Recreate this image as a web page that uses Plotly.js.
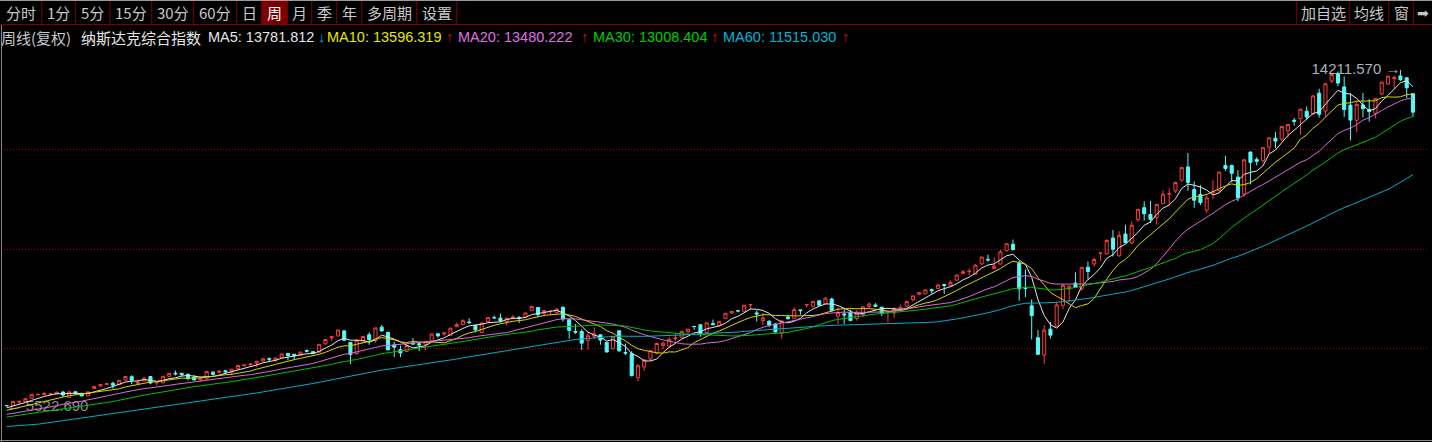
<!DOCTYPE html>
<html><head><meta charset="utf-8">
<script src="https://cdn.plot.ly/plotly-3.0.1.min.js"></script>
<style>html,body{margin:0;padding:0;background:#000;overflow:hidden}#chart{width:1432px;height:442px}</style>
</head><body><div id="chart"></div>
<script>
// ---- weekly categories (week ending) ----
const weeks = [
"2017-01-20","2017-01-27","2017-02-03","2017-02-10","2017-02-17","2017-02-24","2017-03-03","2017-03-10","2017-03-17","2017-03-24","2017-03-31","2017-04-07","2017-04-14","2017-04-21","2017-04-28","2017-05-05","2017-05-12","2017-05-19","2017-05-26","2017-06-02","2017-06-09","2017-06-16","2017-06-23","2017-06-30","2017-07-07","2017-07-14","2017-07-21","2017-07-28","2017-08-04","2017-08-11","2017-08-18","2017-08-25","2017-09-01","2017-09-08","2017-09-15","2017-09-22","2017-09-29","2017-10-06","2017-10-13","2017-10-20","2017-10-27","2017-11-03","2017-11-10","2017-11-17","2017-11-24","2017-12-01","2017-12-08","2017-12-15","2017-12-22","2017-12-29",
"2018-01-05","2018-01-12","2018-01-19","2018-01-26","2018-02-02","2018-02-09","2018-02-16","2018-02-23","2018-03-02","2018-03-09","2018-03-16","2018-03-23","2018-03-30","2018-04-06","2018-04-13","2018-04-20","2018-04-27","2018-05-04","2018-05-11","2018-05-18","2018-05-25","2018-06-01","2018-06-08","2018-06-15","2018-06-22","2018-06-29","2018-07-06","2018-07-13","2018-07-20","2018-07-27","2018-08-03","2018-08-10","2018-08-17","2018-08-24","2018-08-31","2018-09-07","2018-09-14","2018-09-21","2018-09-28","2018-10-05","2018-10-12","2018-10-19","2018-10-26","2018-11-02","2018-11-09","2018-11-16","2018-11-23","2018-11-30","2018-12-07","2018-12-14","2018-12-21","2018-12-28",
"2019-01-04","2019-01-11","2019-01-18","2019-01-25","2019-02-01","2019-02-08","2019-02-15","2019-02-22","2019-03-01","2019-03-08","2019-03-15","2019-03-22","2019-03-29","2019-04-05","2019-04-12","2019-04-19","2019-04-26","2019-05-03","2019-05-10","2019-05-17","2019-05-24","2019-05-31","2019-06-07","2019-06-14","2019-06-21","2019-06-28","2019-07-05","2019-07-12","2019-07-19","2019-07-26","2019-08-02","2019-08-09","2019-08-16","2019-08-23","2019-08-30","2019-09-06","2019-09-13","2019-09-20","2019-09-27","2019-10-04","2019-10-11","2019-10-18","2019-10-25","2019-11-01","2019-11-08","2019-11-15","2019-11-22","2019-11-29","2019-12-06","2019-12-13","2019-12-20","2019-12-27",
"2020-01-03","2020-01-10","2020-01-17","2020-01-24","2020-01-31","2020-02-07","2020-02-14","2020-02-21","2020-02-28","2020-03-06","2020-03-13","2020-03-20","2020-03-27","2020-04-03","2020-04-10","2020-04-17","2020-04-24","2020-05-01","2020-05-08","2020-05-15","2020-05-22","2020-05-29","2020-06-05","2020-06-12","2020-06-19","2020-06-26","2020-07-03","2020-07-10","2020-07-17","2020-07-24","2020-07-31","2020-08-07","2020-08-14","2020-08-21","2020-08-28","2020-09-04","2020-09-11","2020-09-18","2020-09-25","2020-10-02","2020-10-09","2020-10-16","2020-10-23","2020-10-30","2020-11-06","2020-11-13","2020-11-20","2020-11-27","2020-12-04","2020-12-11","2020-12-18","2020-12-25","2021-01-01",
"2021-01-08","2021-01-15","2021-01-22","2021-01-29","2021-02-05","2021-02-12","2021-02-19","2021-02-26","2021-03-05","2021-03-12","2021-03-19","2021-03-26","2021-04-02","2021-04-09","2021-04-16","2021-04-23","2021-04-30","2021-05-07","2021-05-14"];

const opens = [
5560,5554,5645,5661,5747,5838,5836,5853,5859,5908,5770,5914,5873,5811,5995,6062,6101,6132,6094,6212,6301,6128,6192,6306,6141,6146,6312,6390,6390,6362,6290,6217,6247,6418,6408,6458,6420,6506,6583,6610,6652,6704,6767,6721,6799,6899,6881,6857,6978,6948,
6937,7149,7303,7350,7485,7187,6901,7194,7383,7232,7580,7446,7121,7002,6954,7168,7154,7138,7226,7409,7403,7370,7589,7648,7712,7623,7441,7723,7826,7814,7729,7819,7828,7838,8003,8085,7942,7978,7952,8095,7772,7472,7467,7240,7342,7383,7190,7024,7486,6926,6896,6278,
6554,6758,6910,7104,7093,7281,7320,7457,7598,7641,7438,7672,7619,7800,7943,8000,7988,8153,7947,7749,7734,7662,7421,7841,7809,8025,8155,8117,8259,8180,8306,7865,7922,7955,7800,7906,8111,8152,8095,7959,7942,8045,8122,8286,8429,8438,8547,8574,8680,8650,8792,8965,
9012,8944,9213,9330,9092,9206,9556,9715,9219,8585,8129,7307,6861,7528,7603,8143,8565,8718,8568,9124,9209,9478,9470,9877,9418,9981,9749,10352,10660,10485,10411,10764,11013,11091,11370,11711,11129,11003,10599,11056,11100,11749,11748,11450,11010,12095,11905,11881,12224,12452,12424,12649,12914,
12958,13149,13085,13613,13152,13925,14124,13774,13305,12916,13312,13196,13093,13595,13850,13986,14058,14011,13600];

const highs = [
5568,5670,5680,5743,5840,5867,5911,5876,5912,5929,5918,5919,5883,5918,6074,6101,6130,6170,6213,6306,6341,6237,6284,6316,6163,6314,6391,6460,6397,6386,6349,6308,6438,6440,6456,6466,6499,6591,6615,6641,6708,6765,6795,6794,6890,6914,6887,6940,7003,6965,
7138,7262,7350,7506,7486,7192,7279,7339,7448,7561,7637,7458,7202,7106,7143,7300,7170,7211,7412,7424,7445,7555,7697,7786,7806,7628,7695,7829,7880,7934,7819,7892,7870,7949,8134,8098,8027,8007,8070,8107,7781,7660,7524,7461,7574,7391,7193,7343,7486,7155,6959,6628,
6760,6990,7191,7209,7323,7421,7477,7534,7608,7652,7701,7775,7732,7944,7999,8021,8148,8176,8016,7944,7756,7686,7742,7887,8092,8028,8171,8250,8267,8340,8339,8090,8056,8027,8017,8117,8215,8201,8101,8028,8102,8165,8260,8386,8481,8541,8574,8705,8681,8784,8927,9052,
9093,9204,9390,9451,9374,9568,9732,9838,9290,9071,8300,7505,7637,7715,8240,8686,8656,8990,9124,9272,9377,9506,9846,10086,10056,10222,10310,10632,10824,10839,10760,11108,11158,11331,11711,12074,11337,11244,10994,11370,11581,12000,11771,11631,11920,12108,11963,12213,12464,12609,12770,12809,12972,
13208,13270,13566,13729,13878,14100,14175,14046,13620,13400,13620,13460,13488,13901,14061,14075,14211.57,14012,13620];

const lows = [
5522.69,5547,5595,5653,5740,5816,5828,5822,5848,5778,5769,5840,5805,5796,5994,6052,6089,5996,6093,6194,6111,6082,6186,6102,6077,6131,6300,6332,6321,6204,6214,6177,6232,6332,6402,6398,6342,6497,6573,6576,6556,6687,6699,6681,6795,6728,6731,6846,6931,6900,
6924,7131,7223,7349,7241,6631,6866,7175,7123,7184,7468,6992,6805,6805,6945,7128,6960,6993,7218,7311,7358,7364,7590,7646,7684,7446,7441,7716,7799,7702,7623,7809,7691,7815,7994,7838,7856,7888,7937,7720,7282,7406,6990,7003,7270,7126,6926,7003,6940,6860,6305,6190.17,
6452,6712,6880,7008,7048,7212,7291,7435,7511,7333,7419,7639,7591,7796,7919,7962,7985,8029,7726,7636,7582,7443,7292,7781,7798,7900,8083,8090,8127,8178,7973,7663,7662,7731,7749,7830,8056,8112,7868,7700,7819,8036,8093,8247,8401,8430,8446,8572,8435,8621,8785,8944,
8917,8943,9181,9266,9088,9205,9526,9571,8264,8356,7264,6860,6631.42,7287,7603,8051,8227,8590,8518,8800,9142,9299,9453,9403,9404,9740,9725,10296,10327,10262,10220,10751,10714,11032,11325,11097,10657,10731,10519,10882,11043,11609,11318,10822,10936,11262,11749,11817,12046,12192,12376,12469,12775,
12543,12940,13050,12986,13004,13878,13792,13003,12397,12609,12990,12881,12965,13562,13828,13728,13923,13485,13002];

const closes = [
5555.33,5660.78,5666.77,5734.13,5838.58,5845.31,5870.75,5861.73,5901.00,5828.74,5911.74,5877.81,5805.15,5910.52,6047.61,6100.76,6121.23,6083.70,6210.19,6305.80,6207.92,6151.76,6265.25,6140.42,6153.08,6312.47,6387.75,6374.68,6351.56,6256.56,6216.53,6265.64,6435.33,6360.19,6448.47,6426.92,6495.96,6590.18,6605.80,6629.05,6701.26,6764.44,6750.94,6782.79,6889.16,6847.59,6840.08,6936.58,6959.96,6903.39,
7136.56,7261.06,7336.38,7505.77,7240.95,6874.49,7239.47,7337.39,7257.87,7560.81,7481.99,6992.67,7063.45,6915.11,7106.65,7146.13,7119.80,7209.62,7402.88,7354.34,7433.85,7554.33,7645.51,7746.38,7692.82,7510.30,7688.39,7825.98,7820.20,7737.42,7812.02,7839.11,7816.33,7945.98,8109.54,7902.54,8010.04,7986.96,8046.35,7788.45,7496.89,7449.03,7167.21,7356.99,7406.90,7247.87,6938.98,7330.54,6969.25,6910.66,6332.99,6584.52,
6738.86,6971.48,7157.23,7164.86,7263.87,7298.20,7472.41,7527.54,7595.35,7408.14,7688.53,7642.67,7729.32,7938.69,7984.16,7998.06,8146.40,8164.00,7916.94,7816.28,7637.01,7453.15,7742.10,7796.66,8031.71,8006.24,8161.79,8244.14,8146.49,8330.21,8004.07,7959.14,7895.99,7751.77,7962.88,8103.07,8176.71,8117.67,7939.63,7982.47,8057.04,8089.54,8243.12,8386.40,8475.31,8540.83,8519.88,8665.47,8656.53,8734.88,8924.96,9006.62,
9020.77,9178.86,9388.94,9314.91,9150.94,9520.51,9731.18,9576.59,8567.37,8575.62,7874.88,6879.52,7502.38,7373.08,8153.58,8650.14,8634.52,8604.95,9121.32,9014.56,9324.59,9489.87,9814.08,9588.81,9946.12,9757.22,10207.63,10617.44,10503.19,10363.18,10745.27,11010.98,11019.30,11311.80,11695.63,11313.13,10853.55,10793.28,10913.56,11075.02,11579.94,11671.56,11548.28,10911.59,11895.23,11829.29,11854.97,12205.85,12464.23,12377.87,12755.64,12804.73,12888.28,
13201.98,12998.50,13543.06,13070.70,13856.30,14095.47,13874.46,13192.35,12920.15,13319.86,13215.24,13138.73,13480.11,13900.19,14052.34,14016.81,13962.68,13752.24,13125.00];

// closes of the 59 weeks before the first visible week (off-screen, only feed the moving averages)
const priorCloses = [
5142,4933,4923,5048,5007,4644,4488,4591,4614,4363,4338,4504,4590,4718,4748,4796,4774,4915,4851,4938,4906,4775,4737,4718,4770,4933,4943,4895,4800,4708,4863,4957,5030,5100,5162,5221,5233,5239,5219,5250,5126,5245,5306,5312,5293,5214,5258,5190,5046,5237,5322,5398,5256,5444,5437,5463,5383,5521,5574];

const maPeriods = [5,10,20,30,60];
const maColors = ['#e6e6e6','#d6d600','#d96ad9','#00c000','#00aec6'];

const toolbarLabels = ['分时','1分','5分','15分','30分','60分','日','周','月','季','年','多周期','设置'];
const toolbarRight = ['加自选','均线','窗','➡'];
const legendTexts = ['周线(复权)','纳斯达克综合指数','MA5: 13781.812','↓','MA10: 13596.319','↑','MA20: 13480.222','↑','MA30: 13008.404','↑','MA60: 11515.030','↑'];
const gridLevels = [7029.05, 9582.26, 12161.26];
const lowLabel = '← 5522.690';
const highLabel = '14211.570 →';

// ---- moving averages from closes ----
const allCloses = priorCloses.concat(closes);
function sma(n){
  const out=[];
  for(let i=0;i<closes.length;i++){
    const j=i+priorCloses.length; let s=0;
    for(let k=j-n+1;k<=j;k++) s+=allCloses[k];
    out.push(s/n);
  }
  return out;
}

// ---- geometry ----
const W=1432,H=442,L=4,R=4,T=48,B=4;
const pw=W-L-R, ph=H-T-B;
const step=6.25;
const X0=-2.7/step, X1=X0+pw/step;
const PPX=25.79;
const YTOP=14211.57+(70-T)*PPX, YBOT=14211.57-(H-B-70)*PPX;
const ax=x=>(x-L)/pw, ay=y=>(H-B-y)/ph;

// extremes
let iMin=0,iMax=0;
lows.forEach((v,i)=>{if(v<lows[iMin])iMin=i;});
highs.forEach((v,i)=>{if(v>highs[iMax])iMax=i;});

const traces=[];
traces.push({type:'scatter',mode:'text',x:[weeks[iMin]],y:[lows[iMin]],text:[lowLabel],
  textposition:'middle right',textfont:{family:'Liberation Sans, Arial',size:15,color:'#8c8c8c'},hoverinfo:'skip',showlegend:false,cliponaxis:false});
traces.push({type:'candlestick',x:weeks,open:opens,high:highs,low:lows,close:closes,
  increasing:{line:{color:'#ff3c3c',width:1},fillcolor:'#000000'},
  decreasing:{line:{color:'#54fcfc',width:1},fillcolor:'#54fcfc'},
  whiskerwidth:0,hoverinfo:'skip',showlegend:false});
maPeriods.forEach((p,k)=>{
  traces.push({type:'scatter',mode:'lines',x:weeks,y:sma(p),line:{color:maColors[k],width:1},hoverinfo:'skip',showlegend:false});
});
traces.push({type:'scatter',mode:'text',x:[weeks[iMax]],y:[highs[iMax]],text:[highLabel],
  textposition:'middle left',textfont:{family:'Liberation Sans, Arial',size:15,color:'#aab2bc'},hoverinfo:'skip',showlegend:false,cliponaxis:false});

// ---- gridlines, toolbar & legend ----
const shapes=[], ann=[];
gridLevels.forEach(v=>shapes.push({type:'line',layer:'below',xref:'paper',yref:'y',x0:0,x1:1,y0:v,y1:v,line:{color:'#b00000',width:1,dash:'1px,2px'}}));
const tbEdges=[1,41.7,75.7,110,151.7,193.3,236.7,261.7,287.3,311.7,336.7,361.7,416.7,456.7];
const trEdges=[1296.7,1349.3,1388.7,1413.3,1432];
function vline(x,y0,y1,c){shapes.push({type:'line',xref:'paper',yref:'paper',x0:ax(x),x1:ax(x),y0:ay(y0),y1:ay(y1),line:{color:c,width:1}});}
function hline(y,x0,x1,c){shapes.push({type:'line',xref:'paper',yref:'paper',x0:ax(x0),x1:ax(x1),y0:ay(y),y1:ay(y),line:{color:c,width:1}});}
function txt(t,x,y,color,size,anchor,fam){ann.push({text:t,xref:'paper',yref:'paper',x:ax(x),y:ay(y),xanchor:anchor||'left',yanchor:'middle',showarrow:false,borderpad:0,font:{family:fam||'Noto Sans CJK SC, sans-serif',size:size||15,color:color}});}

shapes.push({type:'rect',xref:'paper',yref:'paper',x0:ax(261.7),x1:ax(287.3),y0:ay(24),y1:ay(1),fillcolor:'#7c0000',line:{width:0}});
hline(0.5,0,1432,'#9a9a9a');
hline(24.5,0,1432,'#7c0000');
tbEdges.slice(1).forEach(x=>vline(x,1,24,'#7c0000'));
trEdges.slice(0,4).forEach(x=>vline(x,1,24,'#7c0000'));
toolbarLabels.forEach((t,i)=>{
  const c=(tbEdges[i]+tbEdges[i+1])/2;
  txt(t,c,12.5,i===7?'#ffffff':'#c8c8c8',15,'center');
});
toolbarRight.forEach((t,i)=>{
  const c=(trEdges[i]+trEdges[i+1])/2;
  txt(t,c,12.5,'#c8c8c8',i===3?14:15,'center',i===3?'DejaVu Sans':undefined);
});
vline(1.5,25,442,'#8a8a8a');
hline(440.5,0,1432,'#8a8a8a');

const legX=[0,80,206.5,316.5,325.5,445,456.5,579.5,591.5,709.5,721.5,841];
const legC=['#c8c8c8','#e6e6e6','#e6e6e6','#00b4d8','#e6e600','#e01010','#e070e0','#e01010','#00cc00','#e01010','#00b4d8','#e01010'];
legendTexts.forEach((t,i)=>{
  const isNum=i>=2;
  txt(t,legX[i],37,legC[i],isNum?14.5:15,'left',isNum?'Liberation Sans, Arial':undefined);
});

const layout={
  width:W,height:H,margin:{l:L,r:R,t:T,b:B},
  paper_bgcolor:'#000000',plot_bgcolor:'#000000',showlegend:false,
  xaxis:{type:'category',range:[X0,X1],showgrid:false,showticklabels:false,ticks:'',zeroline:false,showline:false,rangeslider:{visible:false},fixedrange:true},
  yaxis:{range:[YBOT,YTOP],showgrid:false,showticklabels:false,ticks:'',zeroline:false,showline:false,fixedrange:true},
  shapes:shapes,annotations:ann,hovermode:false
};
Plotly.newPlot('chart',traces,layout,{displayModeBar:false,staticPlot:true});
</script></body></html>
